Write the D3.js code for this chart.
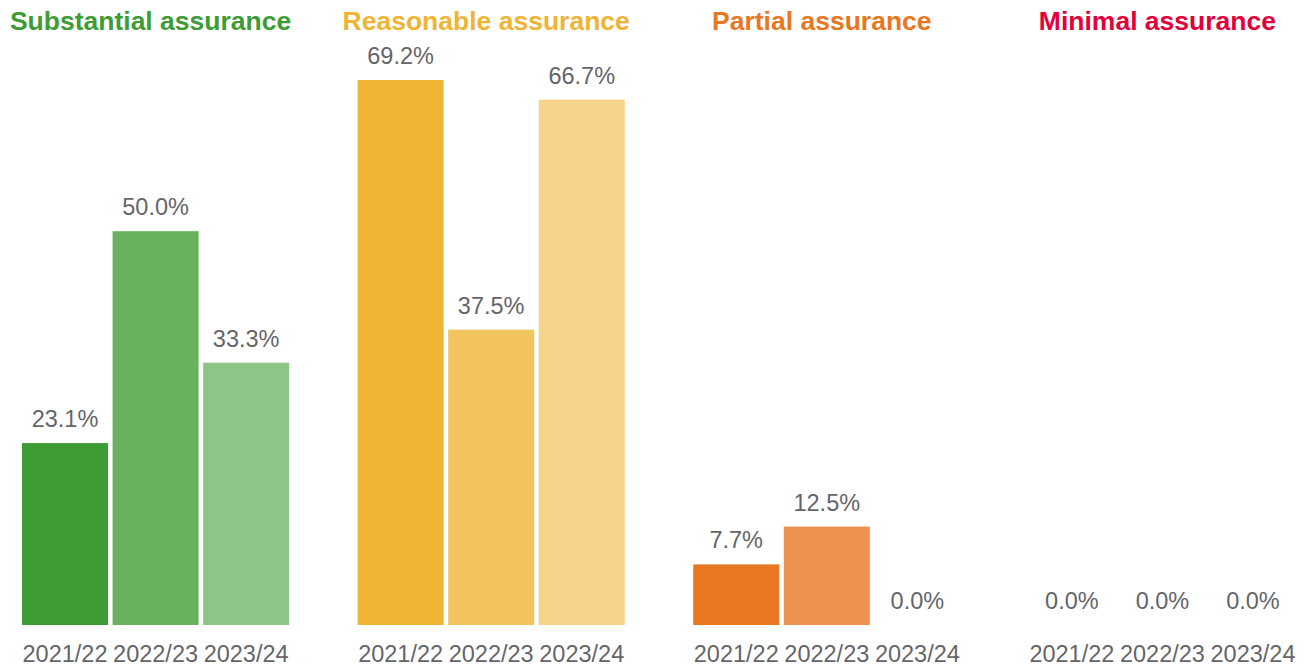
<!DOCTYPE html>
<html>
<head>
<meta charset="utf-8">
<script src="https://cdn.jsdelivr.net/npm/d3@7"></script>
<style>
  body { margin: 0; background: #fff; }
  text { font-family: "Liberation Sans", Arial, sans-serif; }
</style>
</head>
<body>
<div id="chart"></div>
<script>
const groups = ["Substantial assurance", "Reasonable assurance", "Partial assurance", "Minimal assurance"];
const years = ["2021/22", "2022/23", "2023/24"];
const substantial = [23.1, 50.0, 33.3];
const reasonable = [69.2, 37.5, 66.7];
const partial = [7.7, 12.5, 0.0];
const minimal = [0.0, 0.0, 0.0];

const titleColors = ["#3e9c35", "#f0b434", "#e87722", "#e4003b"];
const barColors = [
    ["#3e9c35", "#6ab15f", "#8cc585"],
    ["#f0b434", "#f2c45e", "#f5d389"],
    ["#e87722", "#ee924f", "#f3ad7a"],
    ["#e4003b", "#ea4d75", "#f07f9c"]
];

const width = 1306, height = 667;
const baseline = 625;

const svg = d3.select("#chart").append("svg")
    .attr("width", width)
    .attr("height", height);

const seriesByGroup = [substantial, reasonable, partial, minimal];
const data = [];
groups.forEach((g, gi) => {
    years.forEach((yr, yi) => {
        data.push({group: g, gi: gi, year: yr, yi: yi, value: seriesByGroup[gi][yi]});
    });
});

const x0 = d3.scaleBand()
    .domain(groups)
    .range([22, 1296])
    .paddingInner(0.204)
    .paddingOuter(0);

const x1 = d3.scaleBand()
    .domain(years)
    .range([0, x0.bandwidth()])
    .paddingInner(0.05)
    .paddingOuter(0);

const y = d3.scaleLinear()
    .domain([0, 70])
    .range([baseline, baseline - 70 * 7.876]);

// bars
svg.selectAll(".bar")
    .data(data)
    .enter()
    .append("rect")
    .attr("class", "bar")
    .attr("x", d => x0(d.group) + x1(d.year))
    .attr("y", d => y(d.value))
    .attr("width", x1.bandwidth())
    .attr("height", d => y(0) - y(d.value))
    .attr("fill", d => barColors[d.gi][d.yi]);

// value labels
svg.selectAll(".val")
    .data(data)
    .enter()
    .append("text")
    .attr("class", "val")
    .attr("x", d => x0(d.group) + x1(d.year) + x1.bandwidth() / 2)
    .attr("y", d => y(d.value) - 16)
    .attr("text-anchor", "middle")
    .style("font-size", "23.5px")
    .style("fill", "#646569")
    .text(d => d.value.toFixed(1) + "%");

// year labels
svg.selectAll(".yr")
    .data(data)
    .enter()
    .append("text")
    .attr("class", "yr")
    .attr("x", d => x0(d.group) + x1(d.year) + x1.bandwidth() / 2)
    .attr("y", baseline + 36.5)
    .attr("text-anchor", "middle")
    .style("font-size", "23.5px")
    .style("fill", "#646569")
    .text(d => d.year);

// group titles
svg.selectAll(".title")
    .data(groups)
    .enter()
    .append("text")
    .attr("class", "title")
    .attr("x", d => x0(d) + x0.bandwidth() / 2 - 5)
    .attr("y", 29.5)
    .attr("text-anchor", "middle")
    .style("font-size", "26.5px")
    .style("font-weight", "bold")
    .style("fill", (d, i) => titleColors[i])
    .text(d => d);
</script>
</body>
</html>
